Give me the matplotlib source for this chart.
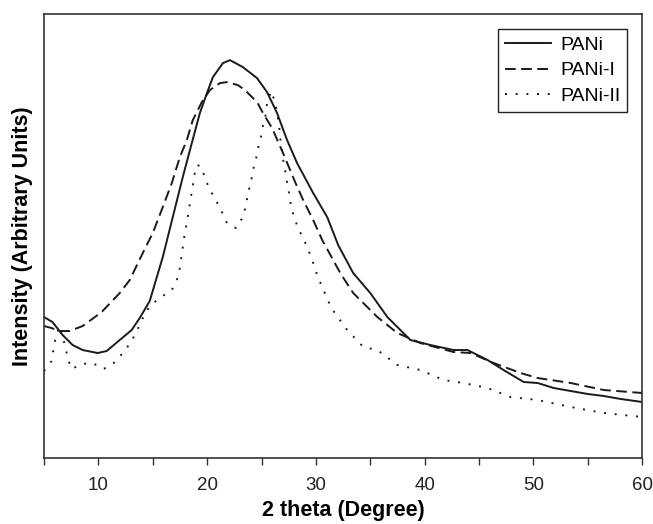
import matplotlib
matplotlib.use('Agg')
from matplotlib import pyplot as plt
from matplotlib.ticker import MultipleLocator, NullLocator

# 2 theta (degree) / intensity (arbitrary units)
x_pani = [5.00, 5.78, 6.71, 7.63, 8.55, 9.93, 10.76, 11.96, 13.06, 13.80, 14.72, 15.92,
          16.84, 17.76, 18.59, 19.33, 19.98, 20.53, 21.45, 22.10, 23.29, 24.59, 25.51,
          26.43, 27.35, 28.27, 29.75, 31.04, 32.05, 33.43, 35.00, 36.57, 38.69, 40.53,
          42.65, 43.94, 45.78, 47.26, 49.10, 50.39, 51.87, 53.43, 55.00, 56.47, 58.04, 60.0]
y_pani = [141, 136, 123, 113, 108, 105, 107, 118, 128, 140, 157, 201,
          241, 281, 315, 345, 365, 381, 395, 398, 391, 380, 366,
          345, 318, 295, 265, 241, 213, 185, 165, 141, 118, 113,
          108, 108, 98, 88, 76, 75, 70, 67, 64, 62, 59, 56]

x_pani1 = [5.00, 5.69, 6.43, 7.35, 8.55, 10.30, 11.96, 12.88, 14.08, 15.00, 15.92, 16.75,
           17.49, 18.13, 18.68, 19.51, 20.25, 21.17, 21.82, 22.83, 23.48, 24.59, 25.14,
           25.97, 26.98, 28.09, 28.83, 29.75, 30.58, 31.59, 32.24, 33.43, 35.65, 37.49,
           39.61, 42.65, 44.22, 46.34, 48.82, 50.39, 53.43, 56.47, 60.0]
y_pani1 = [132, 130, 127, 127, 132, 146, 165, 178, 205, 225, 251, 275,
           301, 318, 338, 356, 368, 375, 376, 373, 368, 356, 345,
           330, 305, 276, 258, 238, 218, 198, 185, 165, 141, 125,
           115, 106, 105, 95, 85, 80, 75, 68, 65]

x_pani2 = [5.00, 5.69, 5.87, 6.06, 6.43, 6.98, 7.17, 7.54, 8.46, 9.47, 10.48, 11.41,
           12.33, 13.06, 13.62, 14.08, 14.72, 15.64, 16.75, 17.21, 17.49, 17.76, 17.95,
           18.13, 18.31, 18.50, 18.68, 18.77, 19.05, 19.42, 19.79, 20.16, 20.80, 21.36,
           21.82, 22.65, 23.29, 23.57, 23.76, 24.03, 24.22, 24.49, 24.68, 24.96, 25.14,
           25.42, 25.51, 25.88, 26.25, 26.43, 26.61, 26.71, 26.98, 27.17, 27.35, 27.53,
           27.72, 27.99, 28.36, 28.92, 29.38, 29.75, 30.12, 30.58, 31.41, 32.88, 34.36,
           35.65, 37.49, 39.61, 41.73, 43.57, 45.78, 47.90, 50.39, 53.43, 56.47, 60.0]
y_pani2 = [87, 97, 109, 120, 132, 111, 100, 89, 94, 95, 89, 95,
           106, 117, 129, 140, 152, 160, 168, 178, 190, 211, 225,
           235, 248, 261, 271, 281, 293, 292, 281, 270, 258, 246,
           235, 230, 241, 253, 265, 276, 288, 299, 310, 322, 333,
           345, 355, 367, 356, 345, 333, 321, 299, 288, 276, 265,
           252, 241, 230, 218, 206, 195, 183, 171, 150, 128, 111,
           108, 93, 88, 78, 75, 70, 61, 58, 51, 45, 41]

plt.rcParams['font.family'] = ['Liberation Sans', 'DejaVu Sans']

fig = plt.figure(figsize=(6.53, 5.24), dpi=100)
ax = fig.add_axes([0.0674, 0.126, 0.916, 0.847])

ink = '#1a1a1a'
ax.plot(x_pani, y_pani, color=ink, linewidth=1.4, label='PANi')
ax.plot(x_pani1, y_pani1, color=ink, linewidth=1.4, dashes=(5.5, 2.8), label='PANi-I')
ax.plot(x_pani2, y_pani2, color=ink, linewidth=1.4, dashes=(1, 4.5), label='PANi-II')

ax.set_xlim(5, 60)
ax.set_ylim(0, 444)
ax.xaxis.set_major_locator(MultipleLocator(10))
ax.xaxis.set_minor_locator(MultipleLocator(5))
ax.yaxis.set_major_locator(NullLocator())
ax.tick_params(axis='x', which='both', direction='out', length=5, width=1,
               colors='#333333', labelsize=13.5, pad=9)
ax.tick_params(axis='x', labelcolor='#222222')
for s in ax.spines.values():
    s.set_color('#333333')
    s.set_linewidth(1.2)

ax.set_xlabel('2 theta (Degree)', fontsize=15.5, fontweight='bold', labelpad=4)
ax.set_ylabel('Intensity (Arbitrary Units)', fontsize=15.5, fontweight='bold', labelpad=8)

leg = ax.legend(loc='upper right', bbox_to_anchor=(0.975, 0.966), borderaxespad=0,
                fancybox=False, edgecolor='#222222', framealpha=1, fontsize=14,
                handlelength=2.4, handletextpad=0.45, labelspacing=0.42,
                borderpad=0.35)
leg.get_frame().set_linewidth(1.0)

plt.savefig('out.png', dpi=100)
